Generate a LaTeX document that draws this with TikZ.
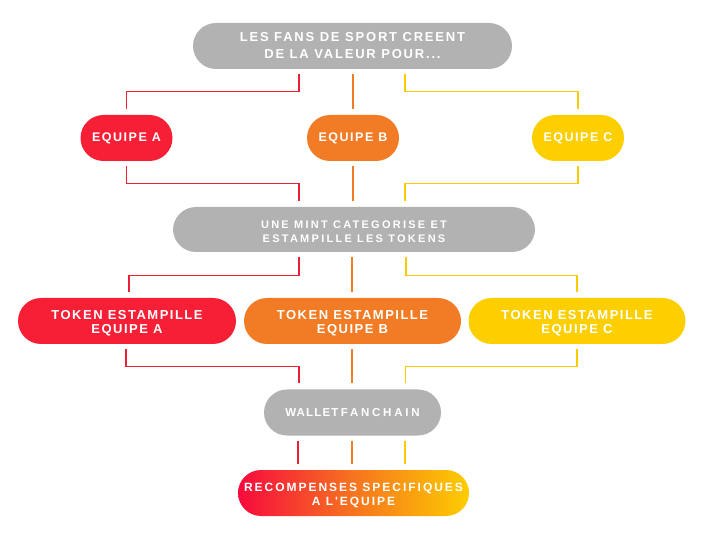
\documentclass[tikz,border=0pt]{standalone}
\usepackage{fontspec}
\newfontfamily\ftop[LetterSpace=14]{Liberation Sans}
\newfontfamily\feq[LetterSpace=12]{Liberation Sans}
\newfontfamily\ftok[LetterSpace=11.5]{Liberation Sans}
\newfontfamily\fmint[LetterSpace=20.5]{Liberation Sans}
\newfontfamily\fwa[LetterSpace=10]{Liberation Sans}
\newfontfamily\fwb[LetterSpace=24]{Liberation Sans}
\newfontfamily\frew[LetterSpace=16.5]{Liberation Sans}
\definecolor{cgray}{HTML}{B2B2B2}
\definecolor{cred}{HTML}{F71F36}
\definecolor{corange}{HTML}{F27B25}
\definecolor{cyellow}{HTML}{FDCF00}
\definecolor{lred}{HTML}{EC1F37}
\definecolor{lorange}{HTML}{F27B25}
\definecolor{lyellow}{HTML}{FBCB00}
\definecolor{gstart}{HTML}{F70A3D}
\definecolor{gmid}{HTML}{F7741F}
\definecolor{gend}{HTML}{FDCD00}
\tikzset{
  pill/.style={rectangle, rounded corners=23pt, minimum height=46pt, inner sep=0pt,
    text=white, align=center},
  conn/.style={line width=1.1pt, shorten <=5pt, shorten >=6pt},
  rl/.style={conn, draw=lred},
  ol/.style={conn, draw=lorange},
  yl/.style={conn, draw=lyellow},
  topfont/.style={font={\ftop\fontsize{13}{17.3}\selectfont\bfseries}, text height=25.3pt, text depth=0pt},
  eqfont/.style={font={\feq\fontsize{12.5}{15}\selectfont\bfseries}, text height=8pt, text depth=0pt},
  mintfont/.style={font={\fmint\fontsize{11}{13.7}\selectfont\bfseries}, text height=26.3pt, text depth=0pt},
  tokfont/.style={font={\ftok\fontsize{13}{14.7}\selectfont\bfseries}, text height=26pt, text depth=0pt},
  walletfont/.style={font={\fontsize{11.5}{13}\selectfont}, text height=8.2pt, text depth=0pt},
  rewfont/.style={font={\frew\fontsize{12}{13.7}\selectfont\bfseries}, text height=24pt, text depth=0pt},
}
\begin{document}
\begin{tikzpicture}[x=1pt,y=-1pt]
\useasboundingbox (0,0) rectangle (705,540);
% nodes
\node[pill, topfont, fill=cgray, minimum width=319pt] (top) at (352.5,46)
  {LES FANS DE SPORT CREENT\\DE LA VALEUR POUR...};
\node[pill, eqfont, fill=cred, minimum width=92pt] (eqA) at (126.5,138) {EQUIPE A};
\node[pill, eqfont, fill=corange, minimum width=92pt] (eqB) at (353,138) {EQUIPE B};
\node[pill, eqfont, fill=cyellow, minimum width=92pt] (eqC) at (578,138) {EQUIPE C};
\node[pill, mintfont, fill=cgray, minimum width=362pt, minimum height=45pt] (mint) at (354,229.5)
  {UNE MINT CATEGORISE ET\\ESTAMPILLE LES TOKENS};
\node[pill, tokfont, fill=cred, minimum width=218pt] (tokA) at (127,321)
  {TOKEN ESTAMPILLE\\EQUIPE A};
\node[pill, tokfont, fill=corange, minimum width=217pt] (tokB) at (352.5,321)
  {TOKEN ESTAMPILLE\\EQUIPE B};
\node[pill, tokfont, fill=cyellow, minimum width=217pt] (tokC) at (577,321)
  {TOKEN ESTAMPILLE\\EQUIPE C};
\node[pill, walletfont, fill=cgray, minimum width=177pt] (wallet) at (352.5,412.5)
  {{\fwa\bfseries WALLET}\kern2.5pt{\fwb\bfseries FANCHAIN}};
\node[pill, rewfont, left color=gstart, right color=gend, middle color=gmid, minimum width=231pt] (rew) at (353.5,493)
  {RECOMPENSES SPECIFIQUES\\A L'EQUIPE};
% top -> equipes
\draw[rl] ([xshift=-53.5pt]top.south) -- ++(0,22) -| (eqA.north);
\draw[ol] (top.south -| eqB.north) -- (eqB.north);
\draw[yl] ([xshift=52.5pt]top.south) -- ++(0,22) -| (eqC.north);
% equipes -> mint
\draw[rl] (eqA.south) -- ++(0,22) -| ([xshift=-55pt]mint.north);
\draw[ol] (eqB.south) -- ([xshift=-1pt]mint.north);
\draw[yl] (eqC.south) -- ++(0,22) -| ([xshift=51pt]mint.north);
% mint -> tokens
\draw[rl] ([xshift=-55pt]mint.south) -- ++(0,23) -| ([xshift=2pt]tokA.north);
\draw[ol] ([xshift=-2pt]mint.south) -- ([xshift=-0.5pt]tokB.north);
\draw[yl] ([xshift=52pt]mint.south) -- ++(0,23) -| (tokC.north);
% tokens -> wallet
\draw[rl] ([xshift=-1pt]tokA.south) -- ++(0,22) -| ([xshift=-53.5pt]wallet.north);
\draw[ol] ([xshift=-0.5pt]tokB.south) -- ([xshift=-0.5pt]wallet.north);
\draw[yl] (tokC.south) -- ++(0,22) -| ([xshift=53pt]wallet.north);
% wallet -> rewards
\draw[rl] ([xshift=-54.5pt]wallet.south) -- ([xshift=-54.5pt]wallet.south |- rew.north);
\draw[ol] ([xshift=-0.5pt]wallet.south) -- ([xshift=-0.5pt]wallet.south |- rew.north);
\draw[yl] ([xshift=52.5pt]wallet.south) -- ([xshift=52.5pt]wallet.south |- rew.north);
\end{tikzpicture}
\end{document}
